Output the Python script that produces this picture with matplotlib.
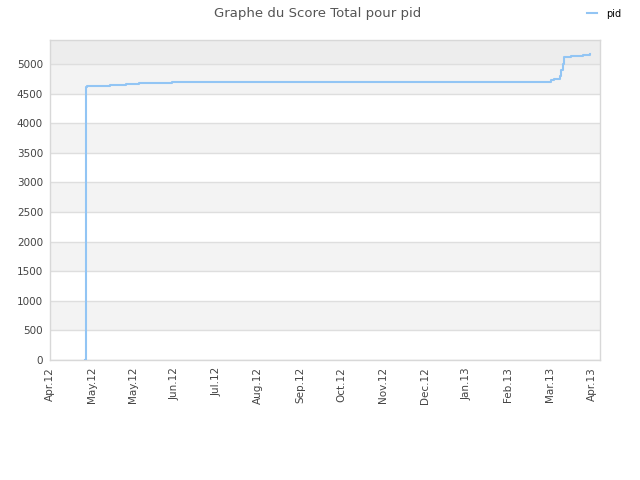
import pandas as pd
import numpy as np
import matplotlib
matplotlib.use('Agg')
import matplotlib.pyplot as plt
import matplotlib.dates as mdates

# score history for pid
dates = ['2012-04-26 12:00', '2012-04-26 18:00', '2012-04-27 12:00', '2012-05-14 00:00',
         '2012-05-26 00:00', '2012-06-04 00:00', '2012-06-28 00:00', '2013-03-28 00:00',
         '2013-03-30 00:00', '2013-04-03 00:00', '2013-04-04 00:00', '2013-04-05 00:00',
         '2013-04-05 18:00', '2013-04-06 00:00', '2013-04-11 00:00', '2013-04-20 00:00',
         '2013-04-25 00:00']
scores = [0, 4615, 4632, 4645, 4662, 4678, 4697, 4732, 4752, 4800,
          4900, 5000, 5100, 5125, 5140, 5158, 5162]
yticks = list(range(0, 5001, 500))
start = pd.Timestamp('2012-04-01')
xticks = [start + pd.Timedelta(days=30 * i) for i in range(14)]

line_col = '#92c5f4'
grid_col = '#dedede'
txt_col = '#444444'

fig = plt.figure(figsize=(6.4, 4.8), dpi=100)
ax = fig.add_axes([50 / 640, 1 - 360 / 480, 550 / 640, 320 / 480])

ymax = 5405
# alternating bands
for i, lo in enumerate(range(0, 5000, 500)):
    if i % 2 == 1:
        ax.axhspan(lo, lo + 500, color='#f3f3f3', zorder=0, lw=0)
ax.axhspan(5000, ymax, color='#ededed', zorder=0, lw=0)
for y in yticks:
    ax.axhline(y, color=grid_col, lw=1, zorder=1)

t = pd.to_datetime(dates, format='%Y-%m-%d %H:%M')
ax.step(t, scores, where='post', color=line_col, lw=1.5, zorder=3, label='pid')

ax.set_ylim(0, ymax)
ax.set_xlim(start, start + pd.Timedelta(days=396))
ax.set_yticks(yticks)
ax.set_xticks(xticks)
ax.xaxis.set_major_formatter(mdates.DateFormatter('%b.%y'))
ax.tick_params(axis='both', length=0, labelsize=7.5, colors=txt_col, pad=5)
plt.setp(ax.get_xticklabels(), rotation=90)
for s in ax.spines.values():
    s.set_color('#d8d8d8')
    s.set_linewidth(1)

fig.suptitle('Graphe du Score Total pour pid', x=0.497, y=0.985, fontsize=9.5, color='#555555')
fig.legend(handles=ax.get_lines()[-1:], labels=['pid'], loc='upper right',
           bbox_to_anchor=(0.985, 1.0), frameon=False, fontsize=7,
           handlelength=1.0, handletextpad=1.0)

fig.savefig('out.png', dpi=100)
